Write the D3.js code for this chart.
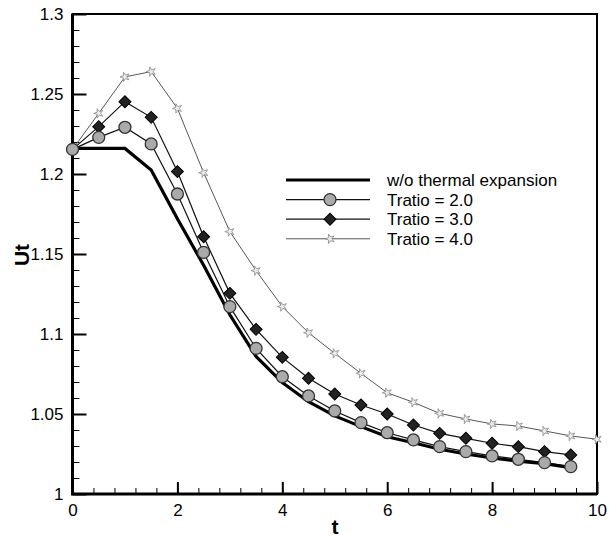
<!DOCTYPE html>
<html>
<head>
<meta charset="utf-8">
<script src="https://d3js.org/d3.v7.min.js"></script>
<style>
body { margin: 0; background: white; }
svg { display: block; font-family: "Liberation Sans", Arial, sans-serif; }
</style>
</head>
<body>
<svg id="chart" width="609" height="541"></svg>
<script>
// data
var tVals = [0, 0.5, 1, 1.5, 2, 2.5, 3, 3.5, 4, 4.5, 5, 5.5, 6, 6.5, 7, 7.5, 8, 8.5, 9, 9.5];
var tVals4 = [0, 0.5, 1, 1.5, 2, 2.5, 3, 3.5, 4, 4.5, 5, 5.5, 6, 6.5, 7, 7.5, 8, 8.5, 9, 9.5, 10];
var noExpansion = [1.216, 1.216, 1.216, 1.2025, 1.172, 1.143, 1.112, 1.086, 1.0696, 1.0577, 1.0488, 1.0421, 1.0358, 1.032, 1.028, 1.025, 1.0225, 1.0205, 1.019, 1.0165];
var tratio2 = [1.2154, 1.2229, 1.2292, 1.2188, 1.1875, 1.151, 1.1171, 1.091, 1.0733, 1.0613, 1.0519, 1.0446, 1.0383, 1.0338, 1.0296, 1.0265, 1.0238, 1.0217, 1.0196, 1.0171];
var tratio3 = [1.2154, 1.2296, 1.2452, 1.2354, 1.2015, 1.1608, 1.1254, 1.1029, 1.0854, 1.0723, 1.0625, 1.0556, 1.05, 1.0431, 1.0379, 1.0348, 1.0317, 1.0296, 1.0265, 1.0244];
var tratio4 = [1.2154, 1.2379, 1.2607, 1.264, 1.241, 1.2008, 1.164, 1.1396, 1.1171, 1.1008, 1.0879, 1.0754, 1.0633, 1.0573, 1.0504, 1.0469, 1.0438, 1.0425, 1.0394, 1.0363, 1.0342];
var legendLabels = ["w/o thermal expansion", "Tratio = 2.0", "Tratio = 3.0", "Tratio = 4.0"];
var xMajor = [0, 2, 4, 6, 8, 10];
var yMajor = [1, 1.05, 1.1, 1.15, 1.2, 1.25, 1.3];

var svg = d3.select("#chart");
var x = d3.scaleLinear().domain([0, 10]).range([72.5, 597]);
var y = d3.scaleLinear().domain([1, 1.3]).range([494, 14]);

function pts(ts, vs) { return ts.map(function (t, i) { return {t: t, v: vs[i]}; }); }
var line = d3.line().x(function (d) { return x(d.t); }).y(function (d) { return y(d.v); });

// minor ticks first, then major ones on top
var xMinor = d3.range(0, 10.001, 0.4);
var yMinor = d3.range(1, 1.3001, 0.01);

svg.append("g").attr("transform", "translate(0,494)")
    .call(d3.axisBottom(x).tickValues(xMinor).tickSizeInner(-6).tickSizeOuter(0).tickFormat(""))
    .call(function (g) { g.select(".domain").remove(); });
svg.append("g").attr("transform", "translate(72.5,0)")
    .call(d3.axisLeft(y).tickValues(yMinor).tickSizeInner(-7).tickSizeOuter(0).tickFormat(""))
    .call(function (g) { g.select(".domain").remove(); });

var xAxis = svg.append("g").attr("transform", "translate(0,494)")
    .call(d3.axisBottom(x).tickValues(xMajor).tickSizeInner(-12).tickSizeOuter(0).tickPadding(10).tickFormat(d3.format("d")));
var yAxis = svg.append("g").attr("transform", "translate(72.5,0)")
    .call(d3.axisLeft(y).tickValues(yMajor).tickSizeInner(-14).tickSizeOuter(0).tickPadding(9)
        .tickFormat(function (d) { return String(+d.toFixed(2)); }));

[xAxis, yAxis].forEach(function (g) {
    g.select(".domain").remove();
    g.selectAll("line").attr("stroke-width", 2);
    g.selectAll("text").attr("font-size", 17).attr("font-family", "Liberation Sans, Arial, sans-serif").attr("fill", "#000");
});

// frame
svg.append("rect")
    .attr("x", x(0)).attr("y", y(1.3))
    .attr("width", x(10) - x(0)).attr("height", y(1) - y(1.3))
    .attr("fill", "none").attr("stroke", "#000").attr("stroke-width", 2);
svg.append("path")
    .attr("d", "M" + x(0) + "," + y(1.3) + "V" + y(1) + "H" + x(10))
    .attr("fill", "none").attr("stroke", "#000").attr("stroke-width", 3);

// axis titles
svg.append("text").attr("x", 335).attr("y", 534).attr("text-anchor", "middle")
    .attr("font-size", 21).attr("font-weight", "bold").text("t");
svg.append("text").attr("transform", "translate(29,255) rotate(-90)").attr("text-anchor", "middle")
    .attr("font-size", 21).attr("font-weight", "bold").text("Ut");

var plot = svg.append("g");

// series lines
plot.append("path").datum(pts(tVals4, tratio4)).attr("d", line)
    .attr("fill", "none").attr("stroke", "#444").attr("stroke-width", 0.9);
plot.append("path").datum(pts(tVals, tratio3)).attr("d", line)
    .attr("fill", "none").attr("stroke", "#111").attr("stroke-width", 1.2);
plot.append("path").datum(pts(tVals, tratio2)).attr("d", line)
    .attr("fill", "none").attr("stroke", "#111").attr("stroke-width", 1.2);
plot.append("path").datum(pts(tVals, noExpansion)).attr("d", line)
    .attr("fill", "none").attr("stroke", "#000").attr("stroke-width", 3.2);

// markers
var star = d3.symbol().type(d3.symbolStar).size(28);
var square = d3.symbol().type(d3.symbolSquare).size(72);

function drawStar(g, px, py) {
    g.append("path").attr("d", star).attr("transform", "translate(" + px + "," + py + ") rotate(-90)")
        .attr("fill", "#eee").attr("stroke", "#888").attr("stroke-width", 0.8);
}
function drawCircle(g, px, py) {
    g.append("circle").attr("cx", px).attr("cy", py).attr("r", 6)
        .attr("fill", "#aaa").attr("stroke", "#333").attr("stroke-width", 1.3);
}
function drawDiamond(g, px, py) {
    g.append("path").attr("d", square).attr("transform", "translate(" + px + "," + py + ") rotate(45)")
        .attr("fill", "#222").attr("stroke", "#000").attr("stroke-width", 1);
}

pts(tVals4, tratio4).forEach(function (d) { drawStar(plot, x(d.t), y(d.v)); });
pts(tVals, tratio3).forEach(function (d) { drawDiamond(plot, x(d.t), y(d.v)); });
pts(tVals, tratio2).forEach(function (d) { drawCircle(plot, x(d.t), y(d.v)); });

// legend
var legend = svg.append("g");
var rowY = [180, 199.6, 219.2, 238.8];
var lineStyles = [
    {stroke: "#000", width: 3.2},
    {stroke: "#111", width: 1.2},
    {stroke: "#111", width: 1.2},
    {stroke: "#444", width: 0.9}
];
legendLabels.forEach(function (label, i) {
    legend.append("line").attr("x1", 286).attr("x2", 370).attr("y1", rowY[i]).attr("y2", rowY[i])
        .attr("stroke", lineStyles[i].stroke).attr("stroke-width", lineStyles[i].width);
    if (i == 1) drawCircle(legend, 330, rowY[i]);
    if (i == 2) drawDiamond(legend, 330, rowY[i]);
    if (i == 3) drawStar(legend, 330, rowY[i]);
    legend.append("text").attr("x", 387).attr("y", rowY[i] + 6)
        .attr("font-size", 17).attr("fill", "#000").text(label);
});
</script>
</body>
</html>
